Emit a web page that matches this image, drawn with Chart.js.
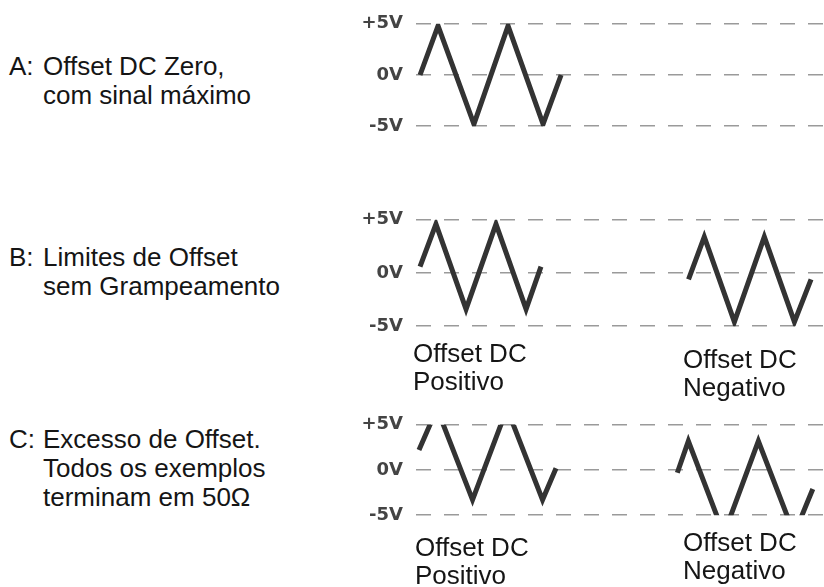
<!DOCTYPE html>
<html>
<head>
<meta charset="utf-8">
<script src="https://cdn.jsdelivr.net/npm/chart.js@4.4.0/dist/chart.umd.min.js"></script>
<style>
  body { margin: 0; width: 824px; height: 587px; background: #fff; position: relative; overflow: hidden;
         font-family: "Liberation Sans", Arial, sans-serif; color: #151515; }
  .txt { position: absolute; font-size: 26px; line-height: 29px; white-space: nowrap; z-index: 2; }
  .sub { line-height: 28px; }
  canvas { position: absolute; left: 350px; }
</style>
</head>
<body>

<div class="txt" style="left:9px;top:52px">A:</div>
<div class="txt" style="left:43px;top:52px">Offset DC Zero,<br>com sinal máximo</div>

<div class="txt" style="left:9px;top:243px">B:</div>
<div class="txt" style="left:43px;top:243px">Limites de Offset<br>sem Grampeamento</div>

<div class="txt" style="left:9px;top:425px">C:</div>
<div class="txt" style="left:43px;top:425px">Excesso de Offset.<br>Todos os exemplos<br>terminam em 50Ω</div>

<div class="txt sub" style="left:413px;top:339px">Offset DC<br>Positivo</div>
<div class="txt sub" style="left:683px;top:345px">Offset DC<br>Negativo</div>
<div class="txt sub" style="left:415px;top:533px">Offset DC<br>Positivo</div>
<div class="txt sub" style="left:683px;top:528px">Offset DC<br>Negativo</div>

<canvas id="chartA" width="474" height="150" style="top:0px"></canvas>
<canvas id="chartB" width="474" height="154" style="top:196px"></canvas>
<canvas id="chartC" width="474" height="138" style="top:401px"></canvas>

<script>
// y axis: volts
const tickValues = [-5, 0, 5];
const tickLabels = ["-5V", "0V", "+5V"];

// time in quarter-periods of wave A, value in volts
const tA = [0.23, 1.26, 3.31, 5.26, 7.26, 8.29];
const vA = [0, 4.8, -4.8, 4.8, -4.8, 0];

const tBpos = [0.23, 1.14, 2.86, 4.57, 6.29, 7.14];
const vBpos = [0.6, 4.6, -3.4, 4.6, -3.4, 0.6];
const tBneg = [15.57, 16.47, 18.19, 19.9, 21.62, 22.57];
const vBneg = [-0.6, 3.4, -4.6, 3.4, -4.6, -0.6];

// C goes past the limits, the scale clips it at +/-5V
const tCpos = [0.17, 1.2, 3.23, 5.2, 7.23, 8.0];
const vCpos = [2.2, 6.8, -3.3, 6.8, -3.3, 0.2];
const tCneg = [14.93, 15.56, 17.59, 19.56, 21.61, 22.67];
const vCneg = [-0.3, 3.2, -7.1, 3.2, -7.1, -2.1];

const tMax = 23.31;

function pts(t, v) {
  return t.map((x, i) => ({ x: x, y: v[i] }));
}

function wave(t, v) {
  return {
    data: pts(t, v),
    borderColor: "#333",
    borderWidth: 5,
    borderJoinStyle: "miter",
    borderCapStyle: "butt",
    pointRadius: 0,
    tension: 0,
    fill: false,
    clip: 0
  };
}

function makeChart(id, datasets) {
  let ctx = document.getElementById(id).getContext("2d");
  return new Chart(ctx, {
    type: "line",
    data: { datasets: datasets },
    options: {
      responsive: false,
      animation: false,
      devicePixelRatio: 1,
      layout: { padding: { top: 20, bottom: 20, left: 0, right: 0 } },
      plugins: { legend: { display: false }, tooltip: { enabled: false } },
      scales: {
        x: { type: "linear", min: 0, max: tMax, display: false },
        y: {
          min: -5,
          max: 5,
          afterFit: (s) => { s.width = 66; },
          afterBuildTicks: (s) => { s.ticks = tickValues.map(v => ({ value: v })); },
          ticks: {
            padding: 13,
            color: "#444",
            font: { family: "DejaVu Sans", size: 18, weight: "bold" },
            callback: (v) => tickLabels[tickValues.indexOf(v)]
          },
          grid: { color: "#9a9a9a", lineWidth: 1.5, drawTicks: false },
          border: { display: false, dash: [15, 13] }
        }
      }
    }
  });
}

makeChart("chartA", [wave(tA, vA)]);
makeChart("chartB", [wave(tBpos, vBpos), wave(tBneg, vBneg)]);
makeChart("chartC", [wave(tCpos, vCpos), wave(tCneg, vCneg)]);
</script>
</body>
</html>
